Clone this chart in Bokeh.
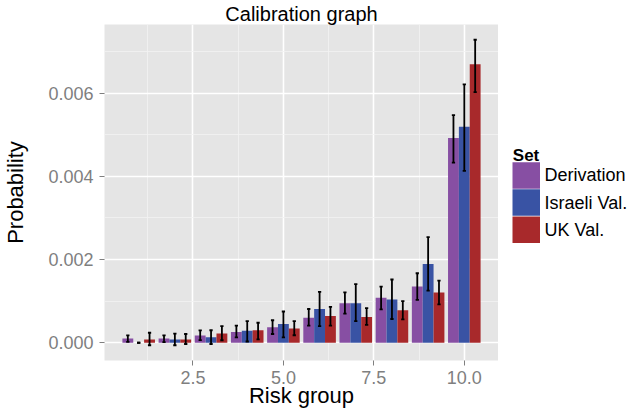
from bokeh.plotting import figure
from bokeh.layouts import row
from bokeh.models import (Range1d, FixedTicker, PrintfTickFormatter, ColumnDataSource)
from bokeh.core.properties import value
from bokeh.embed import file_html
from bokeh.resources import INLINE

# ---------------- data ----------------
groups = [1, 2, 3, 4, 5, 6, 7, 8, 9, 10]
set_names = ["Derivation", "Israeli Val.", "UK Val."]
legend_title = "Set"

deriv = [0.00010, 0.00010, 0.000176, 0.00026, 0.00037, 0.00060, 0.00095, 0.00108, 0.00135, 0.00492]
deriv_lo = [0.00002, 0.000016, 0.000064, 0.00013, 0.00021, 0.00041, 0.00070, 0.00080, 0.00103, 0.00433]
deriv_hi = [0.000176, 0.000176, 0.000295, 0.00041, 0.00054, 0.00081, 0.00121, 0.00135, 0.00167, 0.00547]

israel = [0.0, 0.00008, 0.00013, 0.00029, 0.00045, 0.00081, 0.00095, 0.00104, 0.00189, 0.00519]
israel_lo = [0.0, -0.00006, -0.00003, 0.00003, 0.00013, 0.00040, 0.00052, 0.00057, 0.00125, 0.00413]
israel_hi = [0.0, 0.00022, 0.00030, 0.00052, 0.00075, 0.00122, 0.00141, 0.00152, 0.00254, 0.00621]

uk = [0.00008, 0.00008, 0.00022, 0.00030, 0.00034, 0.00064, 0.00062, 0.00078, 0.00121, 0.00669]
uk_lo = [-0.00006, -0.00003, 0.00006, 0.00008, 0.00018, 0.00041, 0.00043, 0.00056, 0.00092, 0.00602]
uk_hi = [0.00024, 0.00021, 0.00040, 0.00048, 0.00052, 0.00086, 0.00083, 0.00100, 0.00149, 0.00728]

x_ticks = [2.5, 5.0, 7.5, 10.0]
x_minor = [1.25, 3.75, 6.25, 8.75]
y_ticks = [0.0, 0.002, 0.004, 0.006]
y_minor = [0.001, 0.003, 0.005, 0.007]

colors = ["#874fa3", "#3953a4", "#a8292b"]
offsets = [-0.3, 0.0, 0.3]
bar_w = 0.3
cap_half = 0.045

series = [(deriv, deriv_lo, deriv_hi), (israel, israel_lo, israel_hi), (uk, uk_lo, uk_hi)]

# ranges with ggplot-like 5% expansion
all_lo = min([0.0] + deriv_lo + israel_lo + uk_lo)
all_hi = max(deriv_hi + israel_hi + uk_hi)
ys = all_hi - all_lo
y_start, y_end = all_lo - 0.05 * ys, all_hi + 0.05 * ys
xl = groups[0] + offsets[0] - bar_w / 2
xh = groups[-1] + offsets[-1] + bar_w / 2
xs = xh - xl
x_start, x_end = xl - 0.05 * xs, xh + 0.05 * xs

FONT = "Liberation Sans"
GREY = "#7f7f7f"

p = figure(width=498, height=412, output_backend="svg", toolbar_location=None,
           x_range=Range1d(x_start, x_end), y_range=Range1d(y_start, y_end),
           min_border_left=97, min_border_right=0, min_border_top=22,
           min_border_bottom=52, title="Calibration graph")
p.background_fill_color = "#e5e5e5"
p.border_fill_color = "white"
p.outline_line_color = None

p.title.align = "center"
p.title.text_font = FONT
p.title.text_font_size = "20px"
p.title.text_font_style = "normal"
p.title.text_color = "black"
p.title.standoff = 0
p.title.offset = 0

for (vals, lo, hi), off, col in zip(series, offsets, colors):
    xpos = [g + off for g in groups]
    src = ColumnDataSource(dict(x=xpos, top=vals))
    p.vbar(x="x", top="top", bottom=0, width=bar_w, source=src,
           fill_color=col, line_color=None)

for (vals, lo, hi), off in zip(series, offsets):
    xpos = [g + off for g in groups]
    src = ColumnDataSource(dict(x=xpos, lo=lo, hi=hi,
                                cl=[x - cap_half for x in xpos],
                                cr=[x + cap_half for x in xpos]))
    p.segment(x0="x", y0="lo", x1="x", y1="hi", source=src, line_color="black", line_width=1.8)
    p.segment(x0="cl", y0="lo", x1="cr", y1="lo", source=src, line_color="black", line_width=1.8)
    p.segment(x0="cl", y0="hi", x1="cr", y1="hi", source=src, line_color="black", line_width=1.8)

# axes
p.xaxis.ticker = FixedTicker(ticks=x_ticks, minor_ticks=x_minor)
p.yaxis.ticker = FixedTicker(ticks=y_ticks, minor_ticks=y_minor)
p.xaxis.formatter = PrintfTickFormatter(format="%.1f")
p.yaxis.formatter = PrintfTickFormatter(format="%.3f")
for ax in (p.xaxis, p.yaxis):
    ax.axis_line_color = None
    ax.minor_tick_line_color = None
    ax.major_tick_line_color = GREY
    ax.major_tick_out = 5
    ax.major_tick_in = 0
    ax.major_label_text_color = GREY
    ax.major_label_text_font = FONT
    ax.major_label_text_font_size = "18px"
    ax.axis_label_text_font = FONT
    ax.axis_label_text_font_size = "22px"
    ax.axis_label_text_font_style = "normal"
    ax.axis_label_text_color = "black"
p.xaxis.axis_label = "Risk group"
p.yaxis.axis_label = "Probability"
p.xaxis.major_label_standoff = 5
p.xaxis.axis_label_standoff = -4
p.yaxis.major_label_standoff = 6
p.yaxis.axis_label_standoff = 17

for g in (p.xgrid, p.ygrid):
    g.grid_line_color = "white"
    g.grid_line_width = 1.6
    g.minor_grid_line_color = "#f3f3f3"
    g.minor_grid_line_width = 0.8

# ---------------- legend (separate panel, page-pixel coordinates) ----------------
# The row aligns this panel's frame with the main frame, so its y range spans
# the main frame's pixel extent.
LW = 131
FRAME_TOP, FRAME_BOTTOM = 22.3, 360
leg = figure(width=LW, height=412, output_backend="svg", toolbar_location=None,
             x_range=Range1d(0, LW), y_range=Range1d(FRAME_BOTTOM, FRAME_TOP),
             min_border_left=0, min_border_right=0, min_border_top=0,
             min_border_bottom=0, x_axis_location=None, y_axis_location=None)
leg.grid.visible = False
leg.outline_line_color = None
leg.background_fill_color = "white"
leg.border_fill_color = "white"

key_left, key_w, key_h, key_pitch, key_top0 = 14, 27.5, 26.6, 27.3, 160.7
n = len(set_names)
key_tops = [key_top0 + i * key_pitch for i in range(n)]
lsrc = ColumnDataSource(dict(
    x=[key_left + key_w / 2] * n,
    y=[t + key_h / 2 for t in key_tops],
    color=colors,
    label=set_names,
    lx=[key_left + key_w + 4.5] * n,
))
leg.rect(x="x", y="y", width=key_w, height=key_h, fill_color="color",
         line_color=None, source=lsrc)
leg.text(x="lx", y="y", text="label", source=lsrc, text_font=value(FONT),
         text_font_size="18px", text_baseline="middle", text_align="left",
         text_color="black")
leg.text(x=[14.3], y=[154], text=[legend_title], text_font=value(FONT),
         text_font_size="17px", text_font_style="bold", text_baseline="alphabetic",
         text_align="left", text_color="black")

layout = row(p, leg, spacing=0)
open("out.html", "w").write(file_html(layout, INLINE))
